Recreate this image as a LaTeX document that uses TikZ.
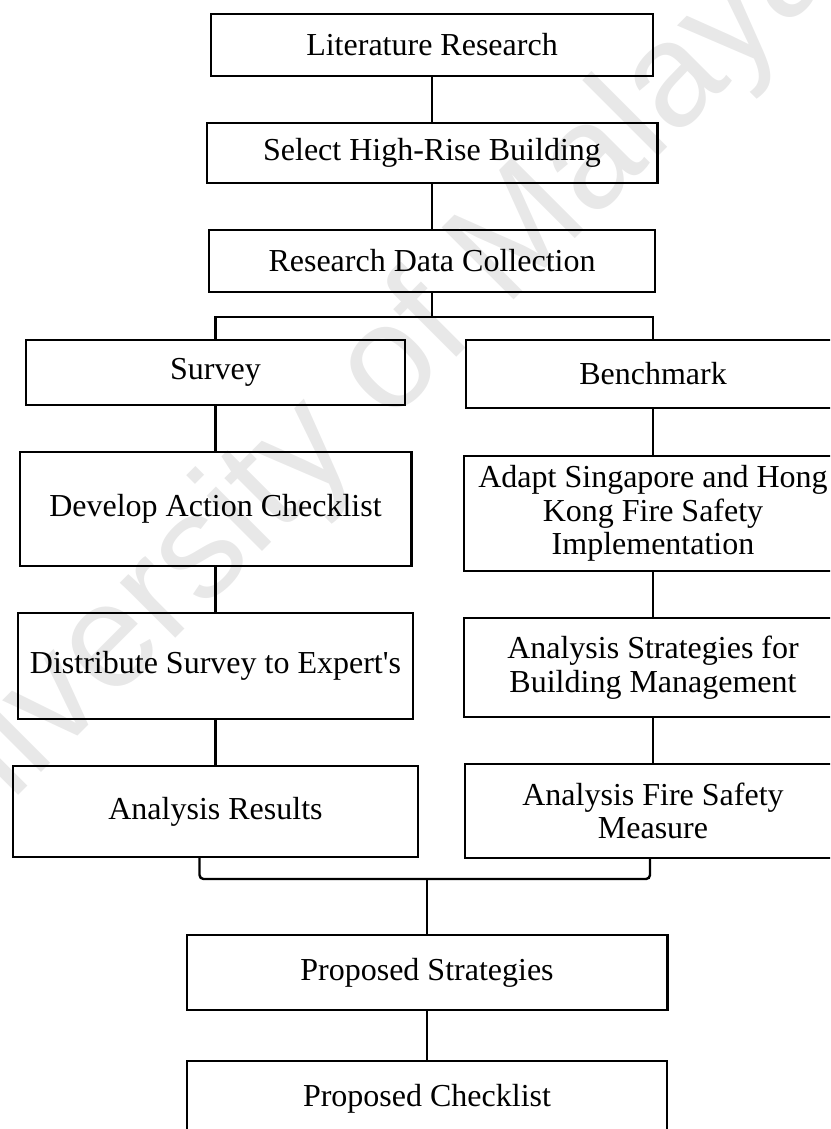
\documentclass[tikz,border=0pt]{standalone}
\usepackage{fontspec}
\setmainfont{Liberation Serif}
\newfontfamily\wmfont{Liberation Sans}
\usetikzlibrary{positioning,calc}

\begin{document}
\begin{tikzpicture}[node distance=22.5pt,line width=1.2pt,every node/.style={font=\fontsize{16pt}{16.7pt}\selectfont,align=center},
  box/.style={draw,line width=1.2pt,inner sep=2pt}]
\clip (0,0) rectangle (415pt,-564.5pt);
% watermark
\node[rotate=45,text=black!9,font=\wmfont\fontsize{74pt}{74pt}\selectfont] (wm) at (172.5pt,-207.5pt) {University of Malaya};
% main column
\node[box,minimum width=220.8pt,minimum height=30.8pt] (lit) at (216pt,-22.5pt) {Literature Research};
\node[box,below=of lit,minimum width=225.3pt,minimum height=29.8pt] (sel) {Select High-Rise Building};
\node[box,below=of sel,minimum width=222.8pt,minimum height=30.8pt] (rdc) {Research Data Collection};
% two branches
\node[box,below=23pt of rdc,xshift=-108.25pt,minimum width=189.3pt,minimum height=32.3pt] (survey) {Survey};
\node[box,below=23pt of rdc,xshift=110.5pt,minimum width=186.8pt,minimum height=33.8pt] (bench) {Benchmark};
\node[box,below=of survey,minimum width=195.8pt,minimum height=56.8pt] (develop) {Develop Action Checklist};
\node[box,below=of develop,minimum width=197.3pt,minimum height=52.8pt] (distrib) {Distribute Survey to Expert\textquotesingle s};
\node[box,below=of distrib,minimum width=202.3pt,minimum height=45.3pt] (results) {Analysis Results};
\node[box,below=23pt of bench,minimum width=188.8pt,minimum height=57.3pt] (adapt) {Adapt Singapore and Hong\\Kong Fire Safety\\Implementation};
\node[box,below=of adapt,minimum width=188.8pt,minimum height=49.3pt] (strat) {Analysis Strategies for\\Building Management};
\node[box,below=of strat,minimum width=187.8pt,minimum height=46.8pt] (measure) {Analysis Fire Safety\\Measure};
% output
\node[box,below=38pt of results,xshift=105.75pt,minimum width=240.3pt,minimum height=37.3pt] (propstrat) {Proposed Strategies};
\node[box,below=24.5pt of propstrat,minimum width=239.8pt,minimum height=37.3pt] (propcheck) {Proposed Checklist};
\draw (lit.south) -- (sel.north);
\draw (sel.south) -- (rdc.north);
\draw (rdc.south) -- ++(0,-12pt) coordinate (split);
\draw (survey.north) |- (split) -| (bench.north);
\draw (survey) -- (develop);
\draw (develop) -- (distrib);
\draw (distrib) -- (results);
\draw (bench) -- (adapt);
\draw (adapt) -- (strat);
\draw (strat) -- (measure);
\coordinate[below=10.5pt of results.south] (mrg);
\draw[rounded corners=2pt] ([xshift=-8pt]results.south) |- (mrg -| propstrat) -| ([xshift=-1.5pt]measure.south);
\draw (mrg -| propstrat) -- (propstrat);
\draw (propstrat) -- (propcheck);
\end{tikzpicture}
\end{document}
